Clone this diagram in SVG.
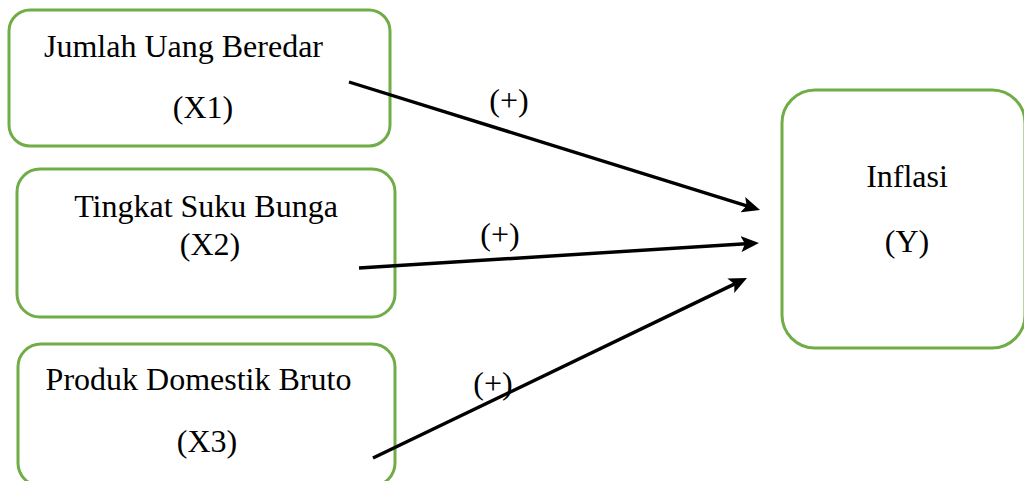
<svg xmlns="http://www.w3.org/2000/svg" width="1024" height="481" viewBox="0 0 1024 481">
  <style>
    .box { fill: #ffffff; stroke: #70AD47; stroke-width: 3; }
    .lbl { font-family: "Liberation Serif", "Times New Roman", serif; font-size: 32px; fill: #000000; text-anchor: middle; }
    .arrow { stroke: #000000; stroke-width: 3.4; fill: none; marker-end: url(#head); }
  </style>
  <defs>
    <marker id="head" markerUnits="userSpaceOnUse" viewBox="0 0 18 16" markerWidth="18" markerHeight="16" refX="5" refY="8" orient="auto">
      <path d="M0,0 L18,8 L0,16 L4,8 z" fill="#000000"/>
    </marker>
  </defs>
  <rect width="1024" height="481" fill="#ffffff"/>

  <g id="node-x1">
    <rect class="box" x="9" y="10" width="381" height="136" rx="21"/>
    <text class="lbl" x="183.5" y="57">Jumlah Uang Beredar</text>
    <text class="lbl" x="203" y="118">(X1)</text>
  </g>

  <g id="node-x2">
    <rect class="box" x="17" y="169" width="378" height="148" rx="23"/>
    <text class="lbl" x="206" y="217">Tingkat Suku Bunga</text>
    <text class="lbl" x="210" y="255">(X2)</text>
  </g>

  <g id="node-x3">
    <rect class="box" x="18" y="344" width="377" height="142" rx="23"/>
    <text class="lbl" x="198.5" y="390">Produk Domestik Bruto</text>
    <text class="lbl" x="207" y="452">(X3)</text>
  </g>

  <g id="node-y">
    <rect class="box" x="782" y="90" width="243" height="258" rx="33"/>
    <text class="lbl" x="907" y="187">Inflasi</text>
    <text class="lbl" x="907" y="252">(Y)</text>
  </g>

  <g id="connectors">
    <line class="arrow" x1="349" y1="82" x2="747.6" y2="206.1"/>
    <line class="arrow" x1="359" y1="268" x2="746" y2="243.8"/>
    <line class="arrow" x1="373" y1="458" x2="735.3" y2="283.6"/>
    <text class="lbl" x="509" y="111">(+)</text>
    <text class="lbl" x="500" y="245">(+)</text>
    <text class="lbl" x="493" y="394">(+)</text>
  </g>
</svg>
